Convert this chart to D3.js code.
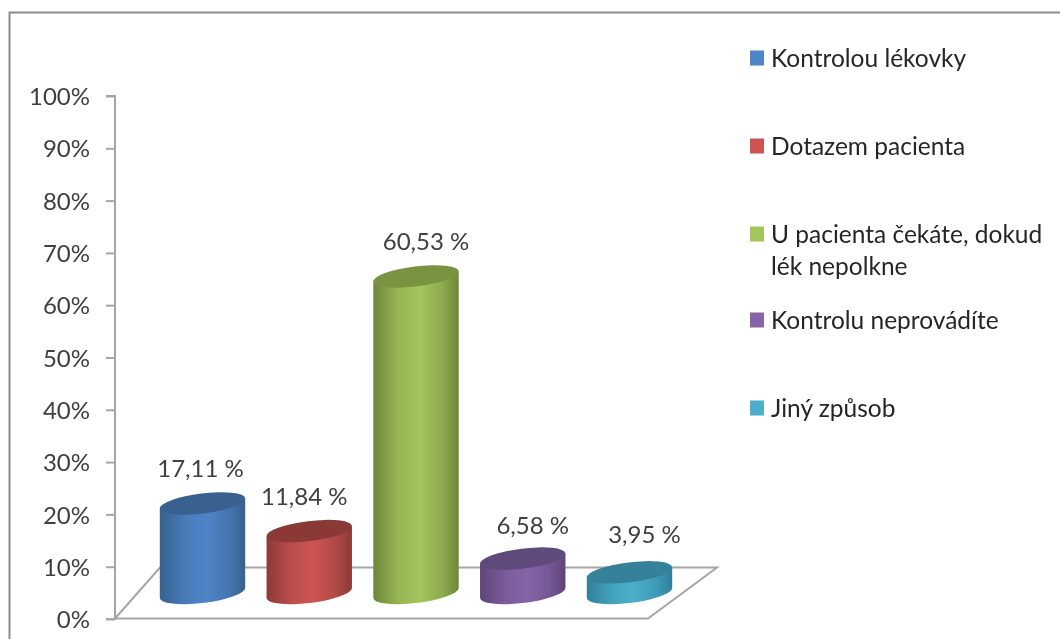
<!DOCTYPE html>
<html><head><meta charset="utf-8">
<script src="https://cdn.jsdelivr.net/npm/d3@7/dist/d3.min.js"></script>
<style>html,body{margin:0;padding:0;background:#fff;overflow:hidden}svg{display:block;filter:blur(0.45px)}text{font-family:Lato,"Open Sans",sans-serif}</style>
</head><body><svg id="c" width="1060" height="639"></svg>
<script>
const categories = ["Kontrolou lékovky","Dotazem pacienta","U pacienta čekáte, dokud lék nepolkne","Kontrolu neprovádíte","Jiný způsob"];
const values = [17.11,11.84,60.53,6.58,3.95];
const valueLabels = ["17,11 %","11,84 %","60,53 %","6,58 %","3,95 %"];
const tickValues = [0,10,20,30,40,50,60,70,80,90,100];
const centerColors = ["#5084c8","#cc5452","#a3c55d","#8564a8","#4bafca"];
const edgeColors = ["#37628f","#8c3a38","#6e8739","#5e4578","#30809a"];
const topColors = ["#38618f","#8b3937","#7a9340","#5f4a7c","#36819a"];
const legendLines = [["Kontrolou lékovky"],["Dotazem pacienta"],["U pacienta čekáte, dokud","lék nepolkne"],["Kontrolu neprovádíte"],["Jiný způsob"]];
const legendBaselines = [65,153,241,327,415];
const labelNudgeX = [-2,-5,10,10,15];
const labelNudgeY = [-27,-26,-26,-25,-29];

const svg = d3.select("#c");
const y = d3.scaleLinear().domain([0,100]).range([619,96]);
const x = d3.scalePoint().domain(categories).range([202.5,629.5]);
const axisX = 115, floorDepthX = 45, backY = 567.5, frontRight = 648, backRight = 717;
const grey = "#a6a6a6";

const defs = svg.append("defs");
categories.forEach((c,i)=>{
  const g = defs.append("linearGradient").attr("id","g"+i).attr("x1","0").attr("x2","1").attr("y1","0").attr("y2","0");
  g.append("stop").attr("offset","0").attr("stop-color",edgeColors[i]);
  g.append("stop").attr("offset","0.3").attr("stop-color",d3.interpolateRgb(edgeColors[i],centerColors[i])(0.75));
  g.append("stop").attr("offset","0.55").attr("stop-color",centerColors[i]);
  g.append("stop").attr("offset","0.8").attr("stop-color",d3.interpolateRgb(centerColors[i],edgeColors[i])(0.4));
  g.append("stop").attr("offset","1").attr("stop-color",edgeColors[i]);
});

// outer frame
svg.append("path").attr("d","M9.5,640V12.5H1061").attr("fill","none").attr("stroke","#8c8c8c").attr("stroke-width",2);

// floor
svg.append("path")
  .attr("d",d3.line()([[axisX,y(0)-0.5],[axisX+floorDepthX,backY],[backRight,backY],[frontRight,y(0)-0.5],[axisX,y(0)-0.5]]))
  .attr("fill","#fff").attr("stroke",grey).attr("stroke-width",2);

// axis
const axis = d3.axisLeft(y).tickValues(tickValues).tickSize(9).tickPadding(16).tickFormat(d=>d+"%");
const ag = svg.append("g").attr("transform",`translate(${axisX},0)`).call(axis);
ag.selectAll("path,line").attr("stroke",grey).attr("stroke-width",2);
ag.select("path").attr("d",`M-9,${y(100)}H0V${y(0)}H-9`).attr("fill","none");
ag.selectAll("text").attr("font-size",24).attr("fill","#404040").attr("font-family","Lato").attr("dy","0.36em");

// cylinders
const a = 43, b = 10, th = -7*Math.PI/180, rot = -7, floorLift = 26;
const W = Math.sqrt(a*a*Math.cos(th)**2 + b*b*Math.sin(th)**2);
const tilt = (a*a-b*b)*Math.sin(th)*Math.cos(th)/W;
const marks = svg.append("g").selectAll("g").data(values).join("g");
marks.each(function(v,i){
  const g = d3.select(this), cx = x(categories[i]);
  const tc = y(v)-floorLift, bc = y(0)-floorLift;
  g.append("path")
    .attr("d",`M${cx-W},${tc-tilt}L${cx-W},${bc-tilt}A${a},${b} ${rot} 0 0 ${cx+W},${bc+tilt}L${cx+W},${tc+tilt}Z`)
    .attr("fill",`url(#g${i})`);
  g.append("ellipse").attr("rx",a).attr("ry",b)
    .attr("transform",`translate(${cx},${tc}) rotate(${rot})`)
    .attr("fill",topColors[i]);
  g.append("text").attr("x",cx+labelNudgeX[i]).attr("y",tc+labelNudgeY[i])
    .attr("text-anchor","middle").attr("font-size",24).attr("fill","#404040").text(valueLabels[i]);
});

// legend
const lg = svg.append("g").selectAll("g").data(categories).join("g");
lg.each(function(c,i){
  const g = d3.select(this), by = legendBaselines[i];
  g.append("rect").attr("x",750).attr("y",by-14.5).attr("width",14).attr("height",15).attr("fill",centerColors[i]);
  g.selectAll("text").data(legendLines[i]).join("text")
    .attr("x",771).attr("y",(d,k)=>by+1.5+k*32).attr("font-size",24.5).attr("fill","#262626").text(d=>d);
});
</script></body></html>
